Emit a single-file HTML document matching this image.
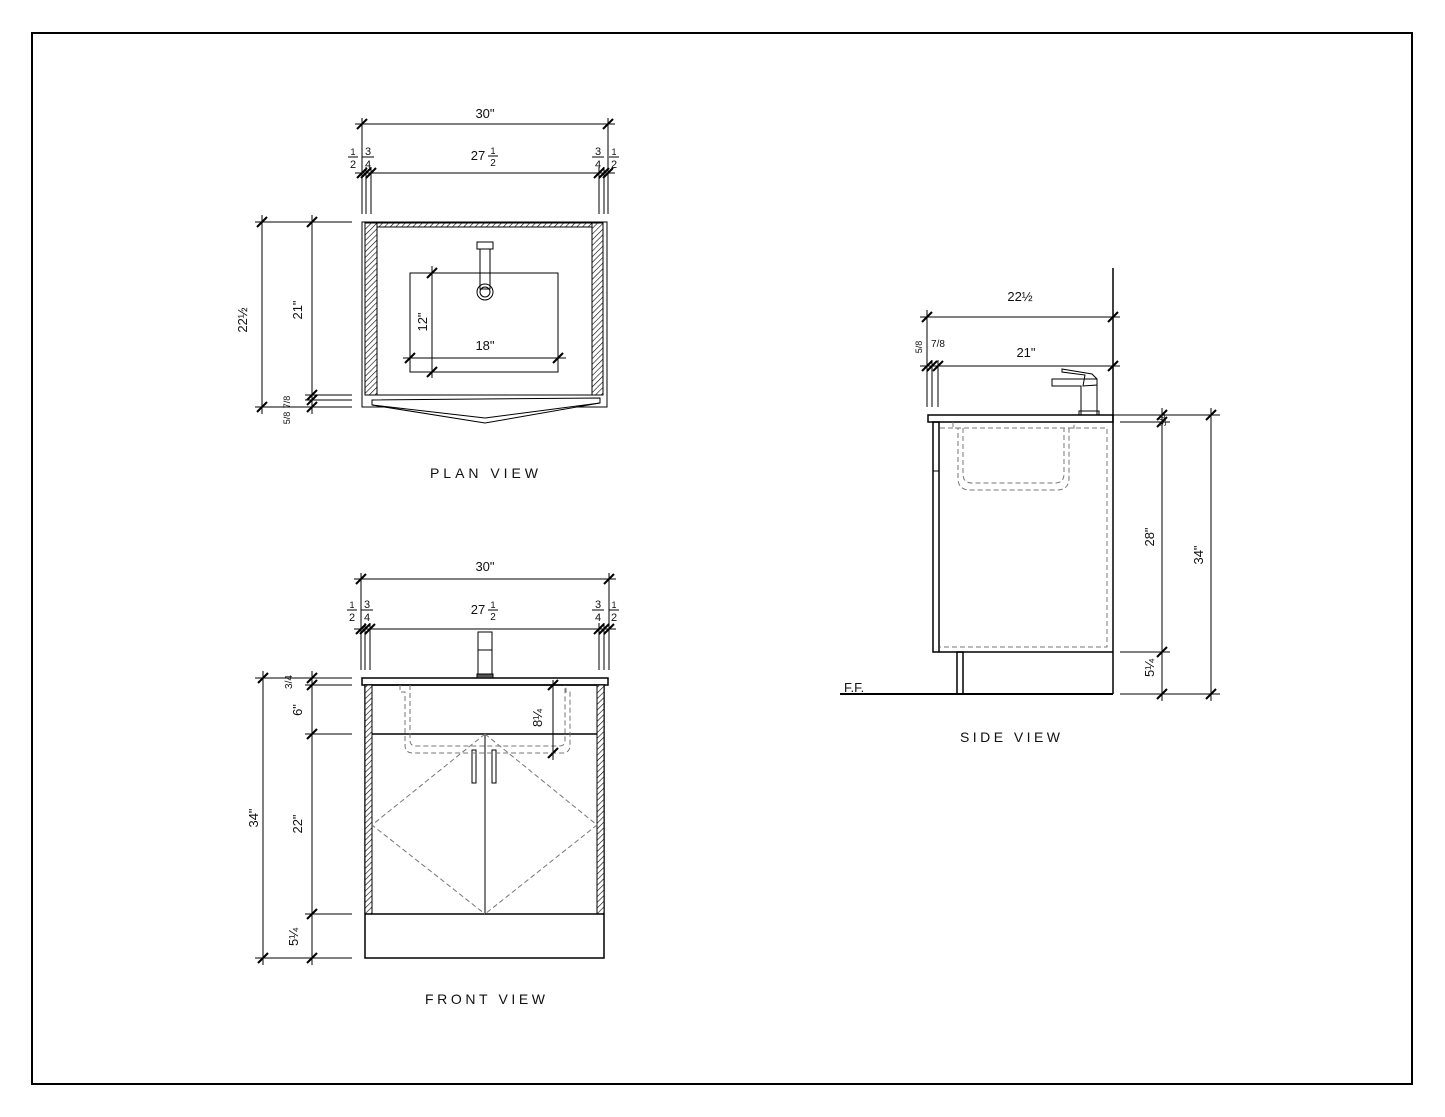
<!DOCTYPE html>
<html><head><meta charset="utf-8"><style>
html,body{margin:0;padding:0;background:#fff}
svg{display:block}
text{font-family:"Liberation Sans",sans-serif;fill:#111}
</style></head><body>
<svg width="1445" height="1117" viewBox="0 0 1445 1117" xmlns="http://www.w3.org/2000/svg">
<defs>
<path id="t" d="M-5,5 L5,-5" stroke="#000" stroke-width="2"/>
<pattern id="h" width="4" height="4" patternUnits="userSpaceOnUse" patternTransform="rotate(45)"><rect width="4" height="4" fill="#fff"/><line x1="0" y1="0" x2="0" y2="4" stroke="#000" stroke-width="1.2"/></pattern>
</defs>
<rect x="32" y="33" width="1380" height="1051" fill="none" stroke="#000" stroke-width="2"/>

<g stroke="#000" stroke-width="1" fill="none">
<!-- ===== PLAN VIEW ===== -->
<line x1="355" y1="124" x2="615" y2="124"/>
<line x1="355" y1="173" x2="615" y2="173"/>
<line x1="362" y1="118" x2="362" y2="214"/><line x1="608" y1="118" x2="608" y2="214"/>
<line x1="366" y1="167" x2="366" y2="214"/><line x1="371" y1="167" x2="371" y2="214"/>
<line x1="599" y1="167" x2="599" y2="214"/><line x1="604" y1="167" x2="604" y2="214"/>
<rect x="362" y="222" width="245" height="185"/>
<rect x="365" y="223" width="12" height="172" fill="url(#h)"/>
<rect x="592" y="223" width="11" height="172" fill="url(#h)"/>
<rect x="377" y="223" width="215" height="4" fill="url(#h)"/>
<line x1="377" y1="395" x2="592" y2="395"/>
<path d="M372,400 L600,398 L600,403 L485,423 L372,405 Z" fill="#fff"/>
<line x1="372" y1="405" x2="485" y2="418"/><line x1="485" y1="418" x2="600" y2="403"/>
<rect x="410" y="273" width="148" height="99"/>
<line x1="432" y1="266" x2="432" y2="378"/>
<line x1="403" y1="358" x2="566" y2="358"/>
<rect x="477" y="242" width="16" height="7"/>
<rect x="480" y="249" width="10" height="40"/>
<circle cx="485" cy="292" r="8"/><circle cx="485" cy="292" r="5"/>
<line x1="255" y1="222" x2="352" y2="222"/>
<line x1="305" y1="395" x2="352" y2="395"/><line x1="305" y1="400" x2="352" y2="400"/><line x1="255" y1="407" x2="352" y2="407"/>
<line x1="262" y1="215" x2="262" y2="414"/>
<line x1="312" y1="215" x2="312" y2="414"/>

<!-- ===== FRONT VIEW ===== -->
<line x1="354" y1="579" x2="616" y2="579"/>
<line x1="354" y1="629" x2="616" y2="629"/>
<line x1="361" y1="573" x2="361" y2="670"/><line x1="609" y1="573" x2="609" y2="670"/>
<line x1="365" y1="623" x2="365" y2="670"/><line x1="370" y1="623" x2="370" y2="670"/>
<line x1="599" y1="623" x2="599" y2="670"/><line x1="604" y1="623" x2="604" y2="670"/>
<rect x="362" y="678" width="246" height="7" stroke-width="1.5"/>
<rect x="365" y="685" width="239" height="273" stroke-width="1.5"/>
<rect x="365" y="685" width="7" height="229" fill="url(#h)"/>
<rect x="597" y="685" width="7" height="229" fill="url(#h)"/>
<line x1="372" y1="734" x2="597" y2="734" stroke-width="1.5"/>
<line x1="365" y1="914" x2="604" y2="914" stroke-width="1.5"/>
<line x1="485" y1="734" x2="485" y2="914"/>
<path d="M485,734 L372,825 L485,914 M485,734 L597,825 L485,914" stroke="#777" stroke-dasharray="5,3"/>
<rect x="472" y="750" width="4" height="33"/><rect x="492" y="750" width="4" height="33"/>
<rect x="478" y="632" width="14" height="42"/><rect x="477" y="674" width="16" height="4" fill="#555"/>
<line x1="478" y1="650" x2="492" y2="650"/>
<path d="M400,685 L400,692 L405,692 L405,745 Q405,753 413,753 L562,753 Q570,753 570,745 L570,692 L566,692 L566,685" stroke="#777" stroke-dasharray="5,3"/>
<path d="M410,685 L410,740 Q410,746 416,746 L559,746 Q565,746 565,740 L565,685" stroke="#777" stroke-dasharray="5,3"/>
<line x1="553" y1="680" x2="553" y2="760"/>
<line x1="255" y1="678" x2="352" y2="678"/><line x1="305" y1="685" x2="352" y2="685"/>
<line x1="305" y1="734" x2="352" y2="734"/><line x1="305" y1="914" x2="352" y2="914"/>
<line x1="255" y1="958" x2="352" y2="958"/>
<line x1="263" y1="671" x2="263" y2="965"/>
<line x1="312" y1="671" x2="312" y2="965"/>

<!-- ===== SIDE VIEW ===== -->
<line x1="1113" y1="268" x2="1113" y2="694" stroke-width="1.5"/>
<line x1="920" y1="317" x2="1120" y2="317"/>
<line x1="920" y1="366" x2="1120" y2="366"/>
<line x1="927" y1="310" x2="927" y2="407"/>
<line x1="932" y1="360" x2="932" y2="407"/><line x1="938" y1="360" x2="938" y2="407"/>
<rect x="928" y="415" width="185" height="7" stroke-width="1.5"/>
<rect x="933" y="422" width="6" height="230" stroke-width="1.5"/>
<line x1="933" y1="471" x2="939" y2="471"/>
<line x1="939" y1="652" x2="1113" y2="652" stroke-width="1.5"/>
<path d="M940,428 L1107,428 L1107,647 L940,647" stroke="#777" stroke-dasharray="5,3"/>
<path d="M953,422 L953,428 L958,428 L958,478 Q958,490 970,490 L1057,490 Q1069,490 1069,478 L1069,428 L1074,428 L1074,422" stroke="#777" stroke-dasharray="5,3"/>
<path d="M963,428 L963,474 Q963,483 972,483 L1055,483 Q1064,483 1064,474 L1064,428" stroke="#777" stroke-dasharray="5,3"/>
<rect x="957" y="652" width="6" height="42" stroke-width="1.5"/>
<line x1="840" y1="694" x2="1113" y2="694" stroke-width="2"/>
<path d="M1081,415 L1081,386 L1052,386 L1052,379 L1097,379 L1097,415 Z"/>
<path d="M1062,369 L1092,374 L1097,379 L1097,385 L1083,386 L1085,375 L1062,372 Z"/>
<rect x="1079" y="411" width="20" height="4"/>
<line x1="1113" y1="415" x2="1220" y2="415"/>
<line x1="1120" y1="422" x2="1170" y2="422"/>
<line x1="1120" y1="652" x2="1170" y2="652"/>
<line x1="1120" y1="694" x2="1220" y2="694"/>
<line x1="1162" y1="408" x2="1162" y2="701"/>
<line x1="1211" y1="408" x2="1211" y2="701"/>
</g>

<!-- ticks -->
<g>
<use href="#t" x="362" y="124"/><use href="#t" x="608" y="124"/>
<use href="#t" x="362" y="173"/><use href="#t" x="366" y="173"/><use href="#t" x="371" y="173"/>
<use href="#t" x="599" y="173"/><use href="#t" x="604" y="173"/><use href="#t" x="608" y="173"/>
<use href="#t" x="432" y="273"/><use href="#t" x="432" y="372"/>
<use href="#t" x="410" y="358"/><use href="#t" x="558" y="358"/>
<use href="#t" x="262" y="222"/><use href="#t" x="262" y="407"/>
<use href="#t" x="312" y="222"/><use href="#t" x="312" y="395"/><use href="#t" x="312" y="400"/><use href="#t" x="312" y="407"/>

<use href="#t" x="361" y="579"/><use href="#t" x="609" y="579"/>
<use href="#t" x="361" y="629"/><use href="#t" x="365" y="629"/><use href="#t" x="370" y="629"/>
<use href="#t" x="599" y="629"/><use href="#t" x="604" y="629"/><use href="#t" x="609" y="629"/>
<use href="#t" x="553" y="685"/><use href="#t" x="553" y="753"/>
<use href="#t" x="263" y="678"/><use href="#t" x="263" y="958"/>
<use href="#t" x="312" y="678"/><use href="#t" x="312" y="685"/><use href="#t" x="312" y="734"/><use href="#t" x="312" y="914"/><use href="#t" x="312" y="958"/>

<use href="#t" x="927" y="317"/><use href="#t" x="1113" y="317"/>
<use href="#t" x="927" y="366"/><use href="#t" x="932" y="366"/><use href="#t" x="938" y="366"/><use href="#t" x="1113" y="366"/>
<use href="#t" x="1162" y="415"/><use href="#t" x="1162" y="422"/><use href="#t" x="1162" y="652"/><use href="#t" x="1162" y="694"/>
<use href="#t" x="1211" y="415"/><use href="#t" x="1211" y="694"/>
</g>

<!-- labels -->
<g font-size="13">
<text x="485" y="118" text-anchor="middle">30"</text>
<text x="478" y="160" text-anchor="middle">27</text><text x="493" y="154" font-size="9" text-anchor="middle">1</text><line x1="488" y1="156" x2="498" y2="156" stroke="#000"/><text x="493" y="166" font-size="10" text-anchor="middle">2</text>
<text x="353" y="155" font-size="9" text-anchor="middle">1</text><line x1="348" y1="157" x2="358" y2="157" stroke="#000"/><text x="353" y="168" font-size="11" text-anchor="middle">2</text>
<text x="368" y="155" font-size="11" text-anchor="middle">3</text><line x1="362" y1="157" x2="374" y2="157" stroke="#000"/><text x="368" y="168" font-size="11" text-anchor="middle">4</text>
<text x="598" y="155" font-size="11" text-anchor="middle">3</text><line x1="592" y1="157" x2="604" y2="157" stroke="#000"/><text x="598" y="168" font-size="11" text-anchor="middle">4</text>
<text x="614" y="155" font-size="9" text-anchor="middle">1</text><line x1="609" y1="157" x2="619" y2="157" stroke="#000"/><text x="614" y="168" font-size="11" text-anchor="middle">2</text>
<text transform="translate(247,320) rotate(-90)" text-anchor="middle">22½</text>
<text transform="translate(302,310) rotate(-90)" text-anchor="middle">21"</text>
<text transform="translate(290,402) rotate(-90)" font-size="9" text-anchor="middle">7/8</text>
<text transform="translate(290,418) rotate(-90)" font-size="9" text-anchor="middle">5/8</text>
<text transform="translate(427,322) rotate(-90)" text-anchor="middle">12"</text>
<text x="485" y="350" text-anchor="middle">18"</text>
<text x="484" y="478" text-anchor="middle" font-size="14" textLength="108">PLAN VIEW</text>

<text x="485" y="571" text-anchor="middle">30"</text>
<text x="478" y="614" text-anchor="middle">27</text><text x="493" y="608" font-size="9" text-anchor="middle">1</text><line x1="488" y1="610" x2="498" y2="610" stroke="#000"/><text x="493" y="620" font-size="10" text-anchor="middle">2</text>
<text x="352" y="608" font-size="9" text-anchor="middle">1</text><line x1="347" y1="610" x2="357" y2="610" stroke="#000"/><text x="352" y="621" font-size="11" text-anchor="middle">2</text>
<text x="367" y="608" font-size="11" text-anchor="middle">3</text><line x1="361" y1="610" x2="373" y2="610" stroke="#000"/><text x="367" y="621" font-size="11" text-anchor="middle">4</text>
<text x="598" y="608" font-size="11" text-anchor="middle">3</text><line x1="592" y1="610" x2="604" y2="610" stroke="#000"/><text x="598" y="621" font-size="11" text-anchor="middle">4</text>
<text x="614" y="608" font-size="9" text-anchor="middle">1</text><line x1="609" y1="610" x2="619" y2="610" stroke="#000"/><text x="614" y="621" font-size="11" text-anchor="middle">2</text>
<text transform="translate(258,818) rotate(-90)" text-anchor="middle">34"</text>
<text transform="translate(292,682) rotate(-90)" font-size="10" text-anchor="middle">3/4</text>
<text transform="translate(302,710) rotate(-90)" text-anchor="middle">6"</text>
<text transform="translate(302,824) rotate(-90)" text-anchor="middle">22"</text>
<text transform="translate(298,937) rotate(-90)" text-anchor="middle">5¼</text>
<text transform="translate(542,718) rotate(-90)" text-anchor="middle">8¼</text>
<text x="485" y="1004" text-anchor="middle" font-size="14" textLength="120">FRONT VIEW</text>

<text x="1020" y="301" text-anchor="middle">22½</text>
<text x="1026" y="357" text-anchor="middle">21"</text>
<text transform="translate(922,347) rotate(-90)" font-size="9" text-anchor="middle">5/8</text>
<text x="938" y="347" font-size="10" text-anchor="middle">7/8</text>
<text transform="translate(1166,420) rotate(-90)" font-size="9" text-anchor="middle">3/4</text>
<text transform="translate(1154,537) rotate(-90)" text-anchor="middle">28"</text>
<text transform="translate(1203,555) rotate(-90)" text-anchor="middle">34"</text>
<text transform="translate(1154,668) rotate(-90)" text-anchor="middle">5¼</text>
<text x="844" y="692" font-size="13">F.F.</text>
<text x="1010" y="742" text-anchor="middle" font-size="14" textLength="100">SIDE VIEW</text>
</g>
</svg>
</body></html>
